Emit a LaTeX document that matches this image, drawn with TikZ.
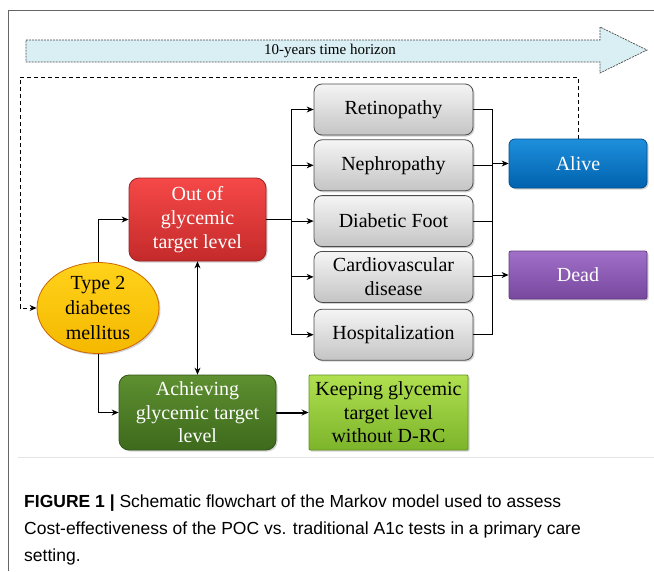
\documentclass[tikz,border=0pt]{standalone}
\usepackage{fontspec}
\setmainfont{Liberation Serif}
\setsansfont{Liberation Sans}
\usepackage{xcolor}
\usepackage{tikz}
\usetikzlibrary{arrows.meta, positioning, calc, shadows, shapes.geometric}
\definecolor{GrayTop}{HTML}{F5F5F5}
\definecolor{GrayBot}{HTML}{C4C4C4}
\definecolor{RedTop}{HTML}{F64848}
\definecolor{RedBot}{HTML}{C42A2A}
\definecolor{GoldTop}{HTML}{FFD21A}
\definecolor{GoldBot}{HTML}{F5B800}
\definecolor{BlueTop}{HTML}{1E8FDC}
\definecolor{BlueBot}{HTML}{0062AE}
\definecolor{PurpTop}{HTML}{A070C8}
\definecolor{PurpBot}{HTML}{78479E}
\definecolor{DkGreenTop}{HTML}{5E8F30}
\definecolor{DkGreenBot}{HTML}{3D6A1C}
\definecolor{LtGreenTop}{HTML}{B0E050}
\definecolor{LtGreenBot}{HTML}{7CB42A}
\definecolor{HorizonFill}{HTML}{DAEFF4}
\tikzset{
  state box/.style={rectangle, rounded corners=8pt, minimum height=51pt,
                    inner sep=2pt, align=center, line width=0.8pt,
                    font=\fontsize{20}{24}\selectfont,
                    drop shadow={opacity=0.35, shadow xshift=1.5pt, shadow yshift=-1.5pt}},
  comp box/.style={state box, minimum width=159pt, draw=black!70,
                   top color=GrayTop, bottom color=GrayBot},
  out box/.style={state box, minimum width=138pt, minimum height=49pt,
                  text=white, rounded corners=6pt},
  flow edge/.style={-{Stealth[length=7pt, width=6pt]}, line width=1pt},
  both edge/.style={{Stealth[length=7pt, width=6pt]}-{Stealth[length=7pt, width=6pt]}, line width=1pt},
  loop edge/.style={flow edge, dash pattern=on 4pt off 3pt},
}

\begin{document}
\begin{tikzpicture}[x=1pt, y=-1pt, node distance=4pt]
  \useasboundingbox (0,0) rectangle (654,571);
  % frame of the figure
  \draw[black!60, line width=0.8pt] (8,571) -- (8,10) -- (654,10);
  \draw[black!10, line width=0.8pt] (18,457) -- (654,457);

  % time horizon arrow
  \draw[fill=HorizonFill, draw=black!70, line width=0.7pt, dash pattern=on 2pt off 1pt]
    (26,40) -- (600,40) -- (600,27) -- (647,50) -- (600,73) -- (600,62) -- (26,62) -- cycle;
  \node[font=\fontsize{15}{18}\selectfont] (horizon) at (330,51) {10-years time horizon};

  % states
  \node[ellipse, draw=orange!80!black, line width=0.8pt, top color=GoldTop, bottom color=GoldBot,
        minimum width=122pt, minimum height=91pt, inner sep=0pt, align=center,
        font=\fontsize{20}{25}\selectfont,
        drop shadow={opacity=0.35, shadow xshift=1.5pt, shadow yshift=-1.5pt}] (t2dm) at (98,308)
        {Type 2\\diabetes\\mellitus};
  \node[state box, minimum width=137pt, minimum height=83pt, rounded corners=10pt,
        draw=RedBot!80!black, top color=RedTop, bottom color=RedBot, text=white] (outof) at (197.5,219.5)
        {Out of\\glycemic\\target level};
  \node[state box, minimum width=157pt, minimum height=75pt, rounded corners=10pt,
        draw=DkGreenBot!80!black, top color=DkGreenTop, bottom color=DkGreenBot, text=white,
        font=\fontsize{20}{23.5}\selectfont] (achv) at (197.5,412.5)
        {Achieving\\glycemic target\\level};
  \node[state box, minimum width=159pt, minimum height=75pt, rounded corners=1pt,
        draw=LtGreenBot!80!black, top color=LtGreenTop, bottom color=LtGreenBot,
        font=\fontsize{20}{23.5}\selectfont] (keep) at (388.5,412.5)
        {Keeping glycemic\\target level\\without D-RC};

  % complications
  \node[comp box] (ret) at (393.5,109.5) {Retinopathy};
  \node[comp box, below=of ret] (nep) {Nephropathy};
  \node[comp box, below=of nep] (foot) {Diabetic Foot};
  \node[comp box, below=of foot] (cvd) {Cardiovascular\\disease};
  \node[comp box, below=6pt of cvd] (hosp) {Hospitalization};

  % outcomes
  \node[out box, draw=BlueBot!80!black, top color=BlueTop, bottom color=BlueBot] (alive) at (578,163.5) {Alive};
  \node[out box, rounded corners=2pt, minimum height=48pt, draw=PurpBot!80!black,
        top color=PurpTop, bottom color=PurpBot] (dead) at (578,275) {Dead};

  \coordinate (split) at (291,219.5);
  \coordinate (mtop) at (492,109.5);
  \coordinate (loop) at (20,77);

  % edges
  \draw[flow edge] (t2dm.north) |- (outof.west);
  \draw[flow edge] (t2dm.south) |- (achv.west);
  \draw[both edge] (outof.south) -- (achv.north);
  \draw[flow edge, line width=2pt] (achv.east) -- (keep.west);
  \draw[line width=1pt] (outof.east) -- (split);
  \foreach \c in {ret, nep, foot, cvd, hosp}
    \draw[flow edge] (split) |- (\c.west);
  \draw[line width=1pt] (ret.east) -- (mtop) -- (mtop |- hosp.east) -- (hosp.east);
  \foreach \c in {nep, foot, cvd}
    \draw[line width=1pt] (\c.east) -- (\c.east -| mtop);
  \draw[flow edge] (alive.west -| mtop) -- (alive.west);
  \draw[flow edge] (dead.west -| mtop) -- (dead.west);
  \draw[loop edge] (alive.north) -- (alive.north |- loop) -- (loop) |- (t2dm.west);

  % caption
  \node[anchor=north west, inner sep=0pt, align=left,
        font=\sffamily\fontsize{17.5}{27}\selectfont] (caption) at (24,495)
    {\textbf{FIGURE 1 |} Schematic flowchart of the Markov model used to assess\\
     Cost-effectiveness of the POC vs. traditional A1c tests in a primary care\\
     setting.};
\end{tikzpicture}
\end{document}
